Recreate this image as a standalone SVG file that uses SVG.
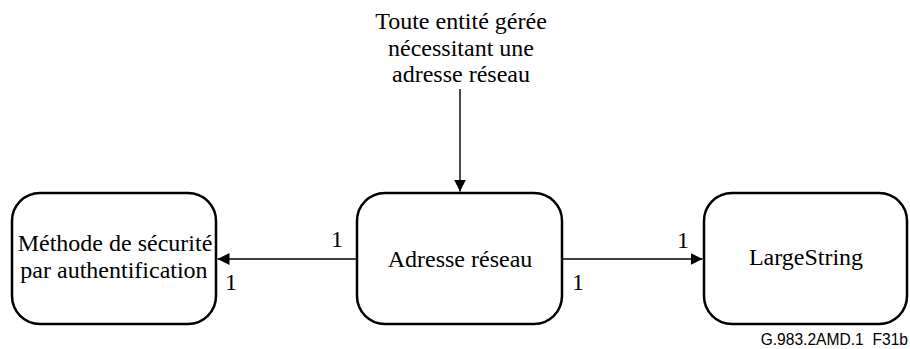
<svg xmlns="http://www.w3.org/2000/svg" width="910" height="349" viewBox="0 0 910 349">
  <style>
    .box { fill: #ffffff; stroke: #000000; stroke-width: 2.5; }
    .lbl { font-family: 'Liberation Serif', 'Times New Roman', serif; font-size: 24px; fill: #000000; text-anchor: middle; }
    .mult { font-family: 'Liberation Serif', 'Times New Roman', serif; font-size: 24px; fill: #000000; }
    .conn { stroke: #000000; stroke-width: 1.4; fill: none; }
    .ref { font-family: 'Liberation Sans', Arial, sans-serif; font-size: 15.6px; fill: #000000; text-anchor: end; }
  </style>
  <defs>
    <marker id="arrow" viewBox="0 0 12 12" refX="12" refY="6" markerWidth="12" markerHeight="12" markerUnits="userSpaceOnUse" orient="auto">
      <path d="M0,0 L12,6 L0,12 Z" fill="#000000"/>
    </marker>
  </defs>
  <rect width="910" height="349" fill="#ffffff"/>

  <g id="connectors">
    <line class="conn" x1="460" y1="89" x2="460" y2="191.5" marker-end="url(#arrow)"/>
    <line class="conn" x1="356" y1="259" x2="217.5" y2="259" marker-end="url(#arrow)"/>
    <line class="conn" x1="563" y1="259" x2="702.5" y2="259" marker-end="url(#arrow)"/>
    <text class="mult" x="331" y="247">1</text>
    <text class="mult" x="225" y="290">1</text>
    <text class="mult" x="677" y="248">1</text>
    <text class="mult" x="572" y="290">1</text>
  </g>

  <g id="source-label">
    <text class="lbl" x="461" y="29">Toute entité gérée</text>
    <text class="lbl" x="461" y="55.5">nécessitant une</text>
    <text class="lbl" x="461" y="82">adresse réseau</text>
  </g>

  <g id="node-auth">
    <rect class="box" x="12" y="193" width="204" height="131" rx="28" ry="28"/>
    <text class="lbl" x="115" y="251">Méthode de sécurité</text>
    <text class="lbl" x="114" y="278">par authentification</text>
  </g>

  <g id="node-address">
    <rect class="box" x="357" y="193" width="205" height="131" rx="28" ry="28"/>
    <text class="lbl" x="460" y="267">Adresse réseau</text>
  </g>

  <g id="node-largestring">
    <rect class="box" x="704" y="193" width="203" height="131" rx="28" ry="28"/>
    <text class="lbl" x="806" y="265">LargeString</text>
  </g>

  <text class="ref" x="908" y="345">G.983.2AMD.1&#160; F31b</text>
</svg>
